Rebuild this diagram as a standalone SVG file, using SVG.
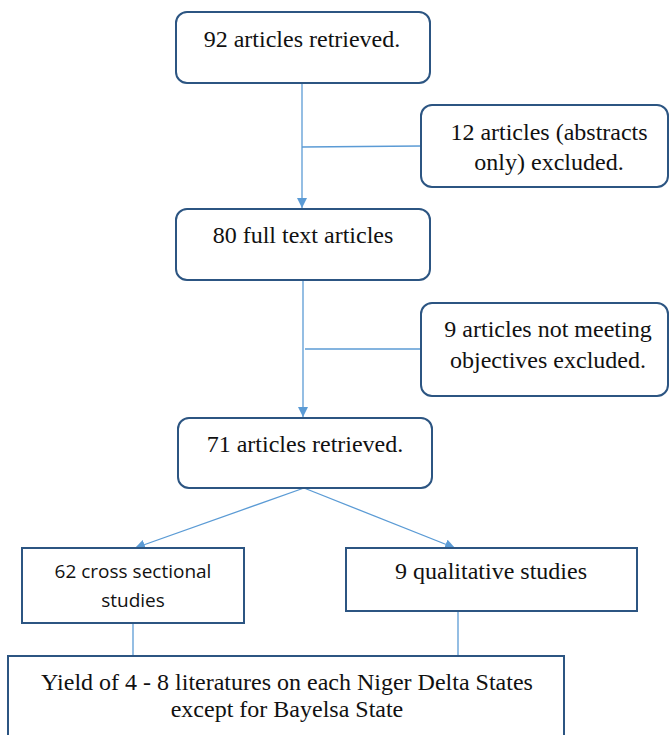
<svg xmlns="http://www.w3.org/2000/svg" width="669" height="735" viewBox="0 0 669 735">
<defs>
<style>
.box{fill:#fff;stroke:#2c5582;stroke-width:2}
.con{stroke:#5b9bd5;stroke-width:1.3;fill:none}
.t{font-family:"Liberation Serif","Times New Roman",serif;font-size:24px;fill:#111;text-anchor:middle}
.s{font-family:"Open Sans","Liberation Sans",sans-serif;font-size:19px;fill:#111;text-anchor:middle}
</style>
<marker id="ah" viewBox="0 0 10 10" refX="10" refY="5" markerWidth="10" markerHeight="10" markerUnits="userSpaceOnUse" orient="auto">
<path d="M0,0 L10,5 L0,10 z" fill="#5b9bd5"/>
</marker>
</defs>
<rect width="669" height="735" fill="#fff"/>
<g id="connectors">
<line class="con" x1="302" y1="83" x2="302" y2="208" marker-end="url(#ah)"/>
<line class="con" x1="302" y1="147" x2="421" y2="146"/>
<line class="con" x1="303" y1="280" x2="303" y2="417" marker-end="url(#ah)"/>
<line class="con" x1="305" y1="349" x2="421" y2="349"/>
<line class="con" x1="304" y1="488" x2="135" y2="548" marker-end="url(#ah)"/>
<line class="con" x1="304" y1="488" x2="455" y2="548" marker-end="url(#ah)"/>
<line class="con" x1="133" y1="623" x2="133" y2="656"/>
<line class="con" x1="458" y1="611" x2="458" y2="656"/>
</g>
<g id="n1">
<rect class="box" x="176" y="12" width="254" height="71" rx="11"/>
<text class="t" x="302" y="47">92 articles retrieved.</text>
</g>
<g id="n2">
<rect class="box" x="421" y="105" width="247" height="82" rx="11"/>
<text class="t" x="549" y="140">12 articles (abstracts</text>
<text class="t" x="549" y="170">only) excluded.</text>
</g>
<g id="n3">
<rect class="box" x="176" y="209" width="254" height="71" rx="11"/>
<text class="t" x="303" y="243">80 full text articles</text>
</g>
<g id="n4">
<rect class="box" x="421" y="303" width="247" height="93" rx="11"/>
<text class="t" x="548" y="337">9 articles not meeting</text>
<text class="t" x="548" y="368">objectives excluded.</text>
</g>
<g id="n5">
<rect class="box" x="178" y="418" width="254" height="70" rx="11"/>
<text class="t" x="305" y="452">71 articles retrieved.</text>
</g>
<g id="n6">
<rect class="box" x="22" y="548" width="222" height="75"/>
<text class="s" x="133" y="578">62 cross sectional</text>
<text class="s" x="133" y="607">studies</text>
</g>
<g id="n7">
<rect class="box" x="346" y="548" width="291" height="63"/>
<text class="t" x="491" y="579">9 qualitative studies</text>
</g>
<g id="n8">
<rect class="box" x="8" y="656" width="556" height="90"/>
<text class="t" x="287" y="690">Yield of 4 - 8 literatures on each Niger Delta States</text>
<text class="t" x="287" y="717">except for Bayelsa State</text>
</g>
</svg>
